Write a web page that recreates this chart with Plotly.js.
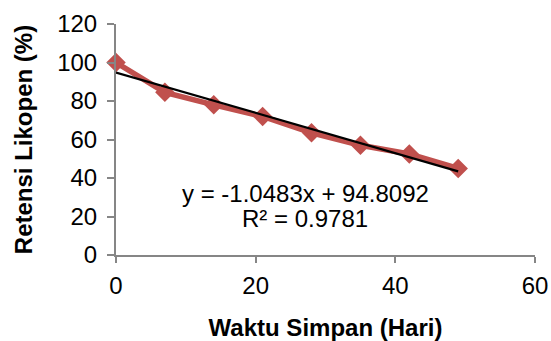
<!DOCTYPE html>
<html>
<head>
<meta charset="utf-8">
<script src="https://cdn.plot.ly/plotly-3.0.1.min.js"></script>
<style>html,body{margin:0;padding:0;background:#fff;}#chart{width:551px;height:341px;}</style>
</head>
<body>
<div id="chart"></div>
<script>
const days = [0, 7, 14, 21, 28, 35, 42, 49];
const retention = [100, 84.5, 78, 72, 63.5, 57, 52.5, 45];
const trendSlope = -1.0483;
const trendIntercept = 94.8092;
const trendR2 = 0.9781;
const xTicks = [0, 20, 40, 60];
const yTicks = [0, 20, 40, 60, 80, 100, 120];

const trendX = [days[0], days[days.length - 1]];
const trendY = trendX.map(x => trendIntercept + trendSlope * x);

const font = "Liberation Sans, Arial, sans-serif";
const axisColor = "#868686";
const fs = 24;

const data = [
  {
    x: days, y: retention, type: "scatter", mode: "lines+markers",
    line: {color: "#C0504D", width: 5.5},
    marker: {symbol: "diamond", size: 15, color: "#C0504D"},
    showlegend: false, cliponaxis: false
  },
  {
    x: trendX, y: trendY, type: "scatter", mode: "lines",
    line: {color: "#000000", width: 2.2},
    showlegend: false, cliponaxis: false
  }
];

const layout = {
  width: 551, height: 341,
  margin: {l: 116, r: 16, t: 24, b: 86},
  paper_bgcolor: "#fff", plot_bgcolor: "#fff",
  font: {family: font, size: fs, color: "#000"},
  xaxis: {
    range: [0, 60], tickvals: xTicks, ticktext: xTicks.map(String),
    showgrid: false, zeroline: false, showline: true, linecolor: axisColor, linewidth: 2,
    ticks: "outside", ticklen: 6, tickcolor: axisColor, tickwidth: 2,
    tickfont: {family: font, size: fs, color: "#000"},
    ticklabelstandoff: 2,
    title: {text: "<b>Waktu Simpan (Hari)</b>", font: {family: font, size: fs, color: "#000"}, standoff: 29}
  },
  yaxis: {
    range: [0, 120], tickvals: yTicks, ticktext: yTicks.map(String),
    showgrid: false, zeroline: false, showline: true, linecolor: axisColor, linewidth: 2,
    ticks: "outside", ticklen: 7, tickcolor: axisColor, tickwidth: 2,
    tickfont: {family: font, size: fs, color: "#000"},
    ticklabelstandoff: 5,
    title: {text: "<b>Retensi Likopen (%)</b>", font: {family: font, size: fs, color: "#000"}, standoff: 18}
  },
  annotations: [
    {
      x: 305, y: 193, xref: "paper", yref: "paper", showarrow: false,
      xanchor: "center", yanchor: "middle",
      text: "y = " + trendSlope.toFixed(4) + "x + " + trendIntercept.toFixed(4),
      font: {family: font, size: fs, color: "#000"}
    },
    {
      x: 305, y: 218, xref: "paper", yref: "paper", showarrow: false,
      xanchor: "center", yanchor: "middle",
      text: "R² = " + trendR2.toFixed(4),
      font: {family: font, size: fs, color: "#000"}
    }
  ]
};
const pw = 551 - 116 - 16, ph = 341 - 24 - 86;
layout.annotations.forEach(a => { a.x = (a.x - 116) / pw; a.y = 1 - (a.y - 24) / ph; });

Plotly.newPlot("chart", data, layout, {displayModeBar: false, staticPlot: true});
</script>
</body>
</html>
